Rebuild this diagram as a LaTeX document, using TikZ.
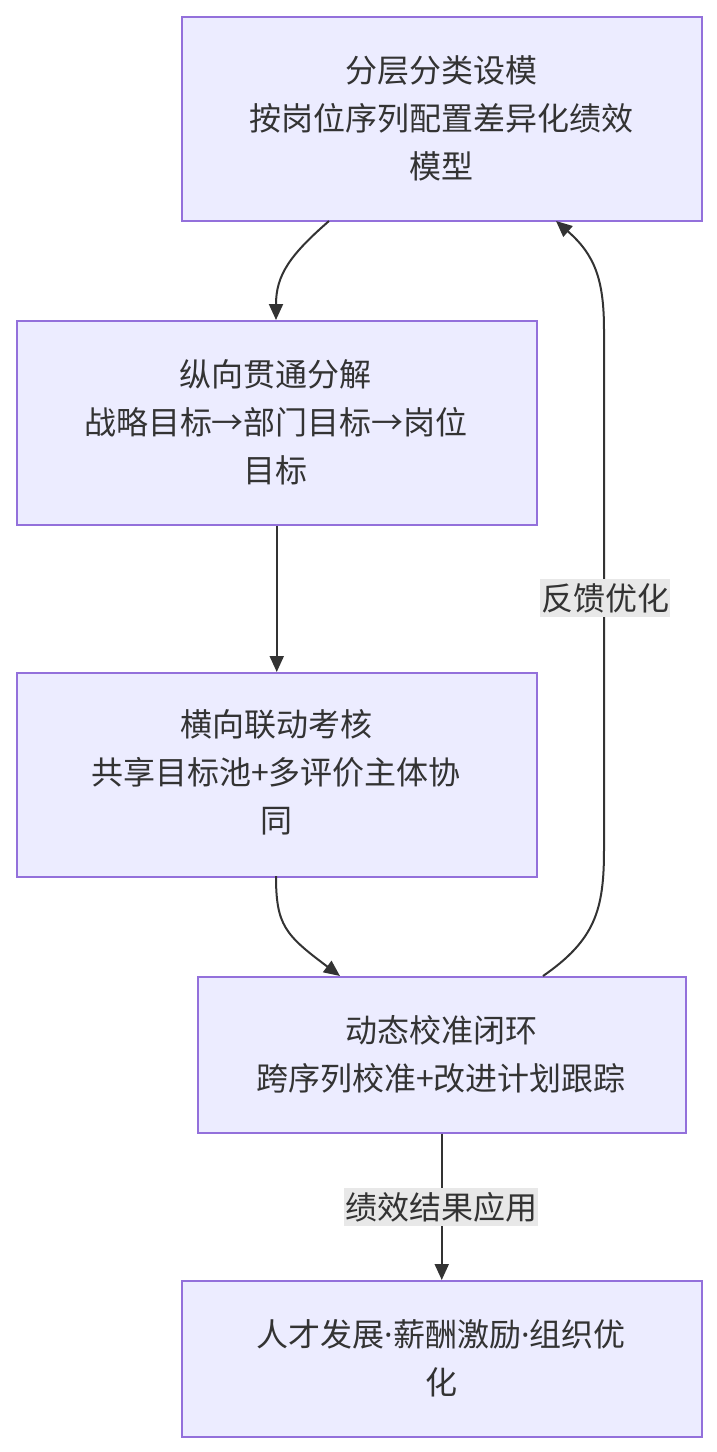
\documentclass[tikz,border=0pt]{standalone}
\usepackage{fontspec}
\setmainfont{Noto Sans CJK SC}
\newfontfamily\latinf{Noto Sans}
\usetikzlibrary{arrows.meta}
\definecolor{boxfill}{HTML}{ECECFF}
\definecolor{boxline}{HTML}{9370DB}
\definecolor{txt}{HTML}{333333}
\definecolor{lblbg}{HTML}{E8E8E8}
\newcommand{\mdot}{{\latinf ·}}
\begin{document}
\begin{tikzpicture}[x=1pt,y=-1pt,
  box/.style={draw=boxline,fill=boxfill,line width=1.5pt,inner sep=0pt,anchor=north west},
  lbl/.style={text=txt,font=\fontsize{32}{48}\selectfont,align=center},
  edge/.style={draw=txt,line width=2pt,-{Triangle[length=16pt,width=14pt]}},
  elabel/.style={fill=lblbg,text=txt,font=\fontsize{32}{36}\selectfont,inner xsep=1pt,inner ysep=4pt}]
\useasboundingbox (0,0) rectangle (717,1452);
\node[box,minimum width=520pt,minimum height=204pt] (A) at (181,16) {};
\node[lbl] at (441,118) {分层分类设模\\按岗位序列配置差异化绩效\\模型};
\node[box,minimum width=520pt,minimum height=204pt] (B) at (16,320) {};
\node[lbl] at (276,422) {纵向贯通分解\\战略目标→部门目标→岗位\\目标};
\node[box,minimum width=520pt,minimum height=204pt] (C) at (16,672) {};
\node[lbl] at (276,772) {横向联动考核\\共享目标池+多评价主体协\\同};
\node[box,minimum width=488pt,minimum height=156pt] (D) at (197,976) {};
\node[lbl] at (441,1054) {动态校准闭环\\跨序列校准+改进计划跟踪};
\node[box,minimum width=520pt,minimum height=156pt] (E) at (181,1280) {};
\node[lbl] at (441,1358) {人才发展\mdot 薪酬激励\mdot 组织优\\化};
\coordinate (a1) at (329,221);
\coordinate (b1) at (276,320);
\coordinate (c1) at (276,876);
\coordinate (d1) at (340,976);
\coordinate (d2) at (543,976);
\coordinate (a2) at (556,221);
\path[edge] (a1) .. controls (290,255) and (276,275) .. (b1);
\path[edge] (B.south) -- (C.north);
\path[edge] (c1) .. controls (276,925) and (285,935) .. (d1);
\path[edge] (d2) .. controls (595,940) and (604,910) .. (604,850) -- (604,330) .. controls (604,280) and (595,255) .. (a2);
\node[elabel] (L1) at (605,598) {反馈优化};
\path[edge] (D.south) -- (E.north);
\node[elabel] (L2) at (441,1207) {绩效结果应用};
\end{tikzpicture}
\end{document}
